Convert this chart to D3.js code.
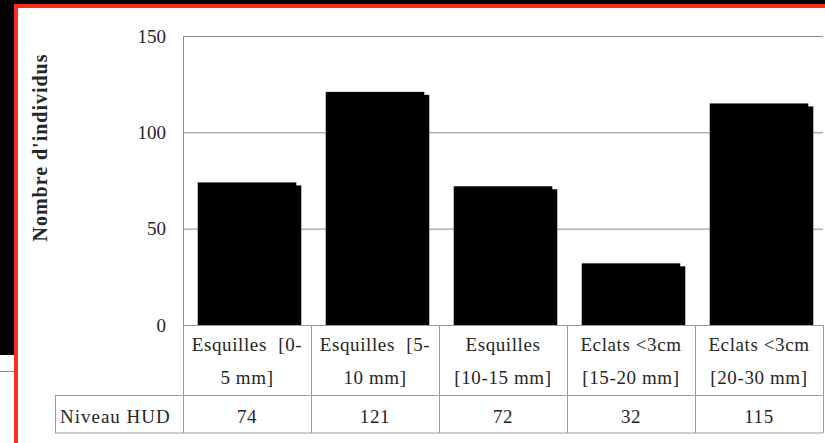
<!DOCTYPE html>
<html>
<head>
<meta charset="utf-8">
<script src="https://cdn.jsdelivr.net/npm/d3@7"></script>
<style>
  html, body { margin: 0; padding: 0; background: #fff; }
  svg { display: block; }
  text { font-family: "Liberation Serif", Tinos, "Times New Roman", serif; fill: #262626; }
</style>
</head>
<body>
<svg id="chart" width="825" height="443"></svg>
<script>
// ---- data ----
const categories = ["Esquilles [0-5 mm]", "Esquilles [5-10 mm]", "Esquilles [10-15 mm]", "Eclats <3cm [15-20 mm]", "Eclats <3cm [20-30 mm]"];
const labelLines = [
  ["Esquilles [0-", "5 mm]"],
  ["Esquilles [5-", "10 mm]"],
  ["Esquilles", "[10-15 mm]"],
  ["Eclats <3cm", "[15-20 mm]"],
  ["Eclats <3cm", "[20-30 mm]"]
];
const seriesName = "Niveau HUD";
const values = [74, 121, 72, 32, 115];
const yTicks = [0, 50, 100, 150];
const yTitle = "Nombre d'individus";

// ---- layout ----
const svg = d3.select("#chart");
const plotLeft = 183, plotRight = 823, plotTop = 36, plotBottom = 325;
const tableMid = 395.5, tableBottom = 433, tableLeft = 55;
const red = "#ff2d1f";
const lineGray = "#9a9a9a";

// decorative frame
svg.append("rect").attr("x", 0).attr("y", 0).attr("width", 14).attr("height", 355).attr("fill", "#000");
svg.append("rect").attr("x", 0).attr("y", 0).attr("width", 825).attr("height", 4).attr("fill", "#000");
svg.append("line").attr("x1", 0).attr("x2", 14).attr("y1", 371.5).attr("y2", 371.5).attr("stroke", "#888").attr("stroke-width", 1);
svg.append("rect").attr("x", 14).attr("y", 4).attr("width", 4).attr("height", 439).attr("fill", red);
svg.append("rect").attr("x", 14).attr("y", 4).attr("width", 811).attr("height", 4).attr("fill", red);

const x = d3.scaleBand().domain(categories).range([plotLeft, plotRight]).paddingInner(0).paddingOuter(0);
const y = d3.scaleLinear().domain([0, 150]).range([plotBottom, plotTop]);

// gridlines
svg.append("g")
  .attr("transform", `translate(${plotLeft},0)`)
  .call(d3.axisLeft(y).tickValues(yTicks.filter(d => d > 0)).tickSize(-(plotRight - plotLeft)).tickFormat(""))
  .call(g => g.select(".domain").remove())
  .call(g => g.selectAll(".tick line").attr("stroke", "#8c8c8c").attr("stroke-width", 1));

// y axis
svg.append("g")
  .attr("transform", `translate(${plotLeft},0)`)
  .call(d3.axisLeft(y).tickValues(yTicks).tickSize(0).tickPadding(17))
  .call(g => g.select(".domain").attr("stroke", "#8c8c8c"))
  .call(g => g.selectAll(".tick text").attr("font-size", 19).attr("font-family", null).attr("fill", "#262626"));

// y title
svg.append("text")
  .attr("transform", `translate(47,148) rotate(-90)`)
  .attr("text-anchor", "middle")
  .attr("font-size", 20)
  .attr("font-weight", "bold")
  .attr("textLength", 187)
  .attr("lengthAdjust", "spacing")
  .text(yTitle);

// bars
const barW = x.bandwidth() * 0.77;
const bars = svg.append("g");
categories.forEach((c, i) => {
  const cx = x(c) + x.bandwidth() / 2;
  bars.append("rect")
    .attr("x", cx - barW / 2 + 5).attr("y", y(values[i]) + 3)
    .attr("width", barW).attr("height", plotBottom - y(values[i]) - 3)
    .attr("fill", "#000");
  bars.append("rect")
    .attr("x", cx - barW / 2).attr("y", y(values[i]))
    .attr("width", barW).attr("height", plotBottom - y(values[i]))
    .attr("fill", "#000");
});

// category axis line
svg.append("line").attr("x1", plotLeft).attr("x2", plotRight).attr("y1", plotBottom + 0.5).attr("y2", plotBottom + 0.5)
  .attr("stroke", lineGray);

// table lines
const tbl = svg.append("g").attr("stroke", lineGray).attr("stroke-width", 1);
const bounds = categories.map(c => x(c)).concat([plotRight]);
bounds.forEach(b => {
  tbl.append("line").attr("x1", b + 0.5).attr("x2", b + 0.5).attr("y1", plotBottom).attr("y2", tableBottom);
});
tbl.append("line").attr("x1", tableLeft).attr("x2", plotRight).attr("y1", tableMid).attr("y2", tableMid);
tbl.append("line").attr("x1", tableLeft).attr("x2", plotRight).attr("y1", tableBottom).attr("y2", tableBottom);
tbl.append("line").attr("x1", tableLeft + 0.5).attr("x2", tableLeft + 0.5).attr("y1", tableMid).attr("y2", tableBottom);

// category labels
categories.forEach((c, i) => {
  const cx = x(c) + x.bandwidth() / 2;
  const t = svg.append("text").attr("text-anchor", "middle").attr("font-size", 19).attr("letter-spacing", 0.6);
  t.append("tspan").attr("x", cx).attr("y", 350.5).attr("word-spacing", labelLines[i][0].includes(" [") ? 6 : 0).text(labelLines[i][0]);
  t.append("tspan").attr("x", cx).attr("y", 384).text(labelLines[i][1]);
  svg.append("text").attr("x", cx).attr("y", 423).attr("text-anchor", "middle").attr("font-size", 19).attr("letter-spacing", 0.6)
    .text(values[i]);
});

// row label
svg.append("text").attr("x", 60).attr("y", 423).attr("font-size", 19).attr("letter-spacing", 1).text(seriesName);
</script>
</body>
</html>
